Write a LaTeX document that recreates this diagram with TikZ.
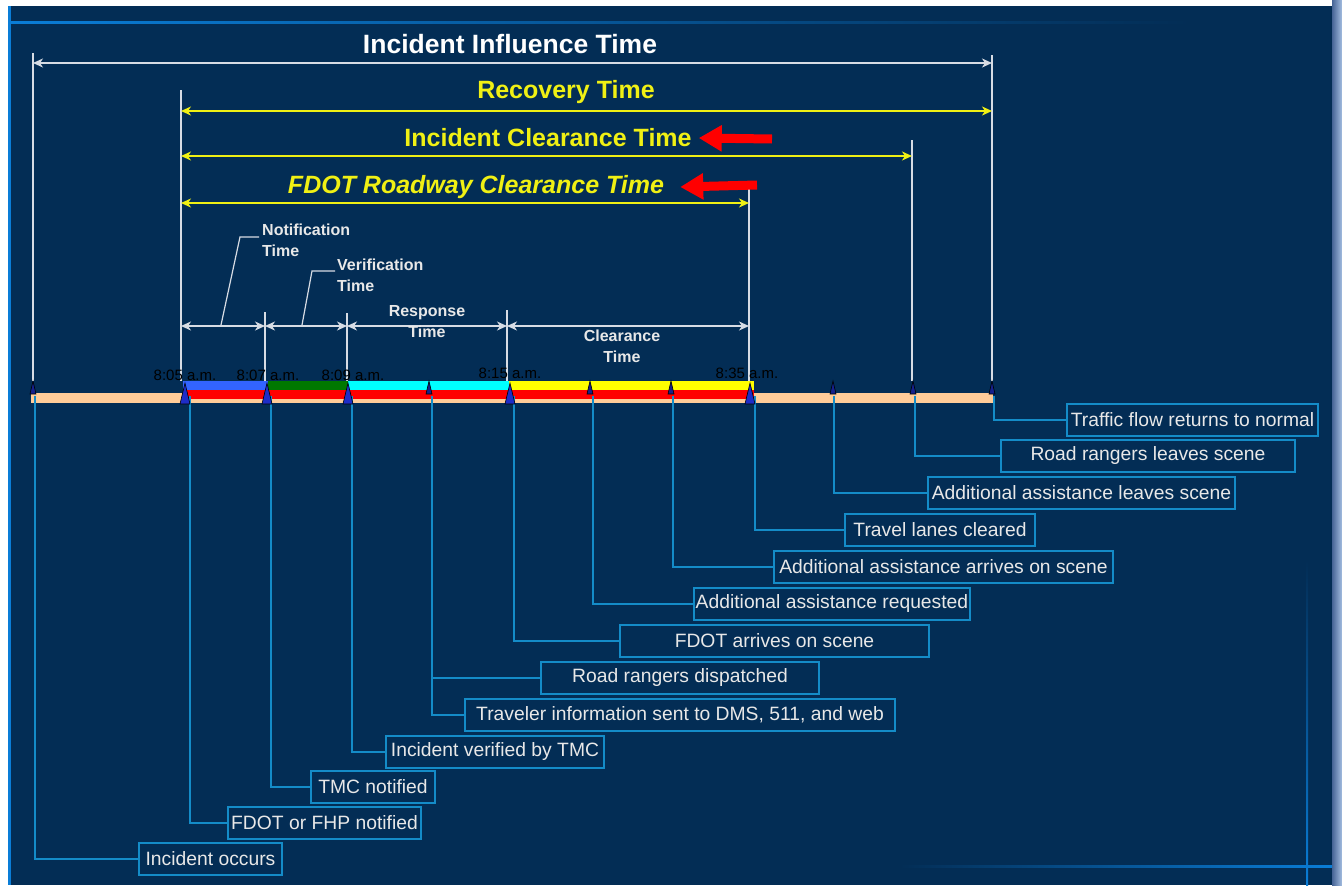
\documentclass[tikz,border=0pt]{standalone}
\usepackage{fontspec}
\setmainfont{Liberation Sans}
\usetikzlibrary{arrows.meta}

\definecolor{navy}{RGB}{3,45,85}
\definecolor{deco}{RGB}{10,125,215}
\definecolor{edgedark}{RGB}{70,100,150}
\definecolor{edgelight}{RGB}{165,190,225}
\definecolor{peach}{RGB}{255,204,153}
\definecolor{segblue}{RGB}{50,100,255}
\definecolor{seggreen}{RGB}{0,120,0}
\definecolor{segcyan}{RGB}{0,255,255}
\definecolor{segyellow}{RGB}{255,255,0}
\definecolor{markblue}{RGB}{30,45,200}
\definecolor{hiyellow}{RGB}{240,240,20}
\definecolor{linegray}{RGB}{215,220,228}
\definecolor{callblue}{RGB}{20,140,200}
\definecolor{boxtext}{RGB}{232,232,232}

\tikzstyle{headline}=[inner sep=0pt, font=\fontsize{25}{30}\selectfont\bfseries]
\tikzstyle{spanlabel}=[inner sep=0pt, text=boxtext, font=\fontsize{16}{21}\selectfont\bfseries]
\tikzstyle{timelabel}=[inner sep=0pt, text=black, font=\fontsize{15}{18}\selectfont]
\tikzstyle{tickline}=[draw=linegray, line width=1.5pt]
\tikzstyle{span}=[line width=1.6pt, {Stealth[length=10pt,width=9pt,inset=3pt]}-{Stealth[length=10pt,width=9pt,inset=3pt]}]
\tikzstyle{pointer}=[draw=red, line width=9pt, -{Triangle[length=23pt,width=25pt]}]
\tikzstyle{callbox}=[rectangle, draw=callblue, line width=1.8pt, minimum height=32pt, inner sep=0pt, text=boxtext, font=\fontsize{19.3}{22}\selectfont, anchor=center]
\tikzstyle{leader}=[draw=callblue, line width=1.3pt]

% name, event x, box left, box right, box y, text
\newcommand{\callout}[6]
{
  \coordinate (#1ev) at (#2,396);
  \node[callbox, minimum width=#4-#3](#1) at ({(#3+#4)/2},#5){#6};
  \draw[leader] (#1ev) |- (#1.west);
}
\newcommand{\bigmark}[1]
{
  \filldraw[fill=markblue, draw=black, line width=0.6pt] (#1-5,404) -- (#1+5,404) -- (#1,383) -- cycle;
}
\newcommand{\smallmark}[1]
{
  \filldraw[fill=markblue!70!black, draw=black, line width=0.6pt] (#1-3,394) -- (#1+3,394) -- (#1,381) -- cycle;
}

\begin{document}
\begin{tikzpicture}[x=1pt,y=-1pt]
	\useasboundingbox (0,0) rectangle (1342,886);

	% slide frame
	\fill[white] (0,0) rectangle (1342,886);
	\fill[navy] (8,6) rectangle (1332,885);
	\shade[left color=edgedark, right color=edgelight] (1332,0) rectangle (1342,886);
	\fill[deco] (8,6) rectangle (11,885);
	\shade[left color=deco, right color=navy] (11,21) rectangle (1190,23);
	\shade[left color=navy, right color=deco] (900,865) rectangle (1332,867);
	\shade[top color=navy, bottom color=deco] (1306,560) rectangle (1308,885);

	% timeline bar
	\fill[peach] (31,393) rectangle (993,403);
	\fill[red] (183,389) rectangle (754,399);
	\fill[segblue] (183,381) rectangle (268,390);
	\fill[seggreen] (268,381) rectangle (348,390);
	\fill[segcyan] (348,381) rectangle (509,390);
	\fill[segyellow] (509,381) rectangle (754,390);

	% boundary lines
	\draw[tickline] (33,53) -- (33,381);
	\draw[tickline] (181,90) -- (181,381);
	\draw[tickline] (265,312) -- (265,381);
	\draw[tickline] (347,313) -- (347,381);
	\draw[tickline] (507,310) -- (507,381);
	\draw[tickline] (749,188) -- (749,381);
	\draw[tickline] (912,140) -- (912,381);
	\draw[tickline] (992,55) -- (992,381);

	% long spans
	\coordinate (inf-a) at (33,63);   \coordinate (inf-b) at (992,63);
	\coordinate (rec-a) at (181,111); \coordinate (rec-b) at (992,111);
	\coordinate (clr-a) at (181,156); \coordinate (clr-b) at (912,156);
	\coordinate (fdot-a) at (181,203); \coordinate (fdot-b) at (749,203);
	\draw[span, linegray] (inf-a) -- (inf-b);
	\draw[span, hiyellow] (rec-a) -- (rec-b);
	\draw[span, hiyellow] (clr-a) -- (clr-b);
	\draw[span, hiyellow] (fdot-a) -- (fdot-b);

	\node[headline, text=white, font=\fontsize{26.5}{30}\selectfont\bfseries](inf) at (510,44){Incident Influence Time};
	\node[headline, text=hiyellow](rec) at (566,92){Recovery Time};
	\node[headline, text=hiyellow](clr) at (548,138){Incident Clearance Time};
	\node[headline, text=hiyellow, font=\fontsize{25}{30}\selectfont\bfseries\itshape](fdot) at (476,187){FDOT Roadway Clearance Time};

	\coordinate (rt1) at (772,139);
	\coordinate (rt2) at (757,185);
	\draw[pointer] (rt1) -- ([xshift=7pt]clr.east);
	\draw[pointer] (rt2) -- ([xshift=16pt]fdot.east);

	% short spans
	\coordinate (s0) at (181,326);
	\coordinate (s1) at (265,326);
	\coordinate (s2) at (347,326);
	\coordinate (s3) at (507,326);
	\coordinate (s4) at (749,326);
	\draw[span, linegray] (s0) -- (s1);
	\draw[span, linegray] (s1) -- (s2);
	\draw[span, linegray] (s2) -- (s3);
	\draw[span, linegray] (s3) -- (s4);

	\node[spanlabel, align=left, anchor=north west](notif) at (262,224){Notification\\Time};
	\node[spanlabel, align=left, anchor=north west](verif) at (337,259){Verification\\Time};
	\node[spanlabel, align=center, anchor=north](resp) at (427,305){Response\\Time};
	\node[spanlabel, align=center, anchor=north](clear) at (622,330){Clearance\\Time};

	\coordinate (n0) at (221,325); \coordinate (n1) at (240,237);
	\coordinate (v0) at (302,325); \coordinate (v1) at (312,271);
	\draw[tickline, line width=1.2pt] (n0) -- (n1) -- ([xshift=-3pt]notif.west |- n1);
	\draw[tickline, line width=1.2pt] (v0) -- (v1) -- ([xshift=-2pt]verif.west |- v1);

	% clock times
	\node[timelabel](t805) at (185,375){8:05 a.m.};
	\node[timelabel](t807) at (268,375){8:07 a.m.};
	\node[timelabel](t809) at (353,375){8:09 a.m.};
	\node[timelabel](t815) at (510,373){8:15 a.m.};
	\node[timelabel](t835) at (747,373){8:35 a.m.};

	% events
	\callout{occurs}{35}{139}{282}{859}{Incident occurs}
	\callout{fhp}{190}{228}{421}{823}{FDOT or FHP notified}
	\callout{tmc}{271}{311}{435}{787}{TMC notified}
	\callout{verified}{352}{386}{604}{752}{Incident verified by TMC}
	\callout{traveler}{432}{465}{895}{715}{Traveler information sent to DMS, 511, and web}
	\callout{dispatch}{432}{541}{819}{678}{Road rangers dispatched}
	\callout{fdotarr}{514}{620}{929}{641}{FDOT arrives on scene}
	\callout{requested}{593}{694}{970}{604}{Additional assistance requested}
	\callout{arrives}{673}{774}{1113}{567}{Additional assistance arrives on scene}
	\callout{cleared}{755}{845}{1035}{530}{Travel lanes cleared}
	\callout{aaleaves}{834}{928}{1235}{493}{Additional assistance leaves scene}
	\callout{rrleaves}{915}{1001}{1295}{456}{Road rangers leaves scene}
	\callout{normal}{994}{1067}{1318}{420}{Traffic flow returns to normal}

	% markers
	\smallmark{33}
	\bigmark{185}
	\bigmark{267}
	\bigmark{348}
	\smallmark{429}
	\bigmark{510}
	\smallmark{590}
	\smallmark{671}
	\bigmark{750}
	\smallmark{833}
	\smallmark{913}
	\smallmark{992}
\end{tikzpicture}
\end{document}
